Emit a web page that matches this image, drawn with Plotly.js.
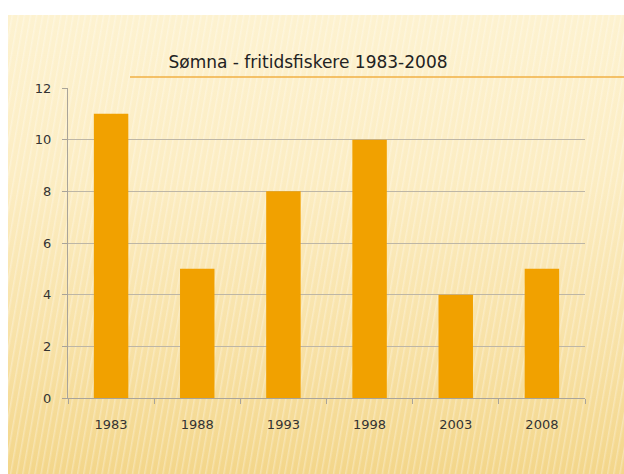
<!DOCTYPE html>
<html>
<head>
<meta charset="utf-8">
<script src="https://cdn.plot.ly/plotly-3.0.1.min.js"></script>
<style>
  html, body { margin: 0; padding: 0; background: #ffffff; }
  #wrap { position: relative; width: 624px; height: 474px; overflow: hidden; background: #ffffff; }
  #bg {
    position: absolute; left: 8px; top: 15px; width: 616px; height: 459px;
    background:
      repeating-linear-gradient(100deg, rgba(255,255,255,0.00) 0px, rgba(255,255,255,0.00) 3px, rgba(255,255,255,0.30) 4px, rgba(255,255,255,0.00) 6px),
      linear-gradient(180deg, #fdf2d0 0%, #fcedc3 35%, #f8e2a8 70%, #f3d68a 100%);
  }
  #chart { position: absolute; left: 0; top: 0; width: 624px; height: 474px; }
</style>
</head>
<body>
<div id="wrap">
  <div id="bg"></div>
  <div id="chart"></div>
</div>
<script>
var categories = ["1983", "1988", "1993", "1998", "2003", "2008"];
var values = [11, 5, 8, 10, 4, 5];
var yTicks = [0, 2, 4, 6, 8, 10, 12];
var chartTitle = "Sømna - fritidsfiskere 1983-2008";

var trace = {
  type: "bar",
  x: categories,
  y: values,
  marker: { color: "#f1a100", line: { width: 0 } },
  hoverinfo: "x+y"
};

var layout = {
  width: 624,
  height: 474,
  margin: { l: 68, r: 39, t: 88, b: 76 },
  paper_bgcolor: "rgba(0,0,0,0)",
  plot_bgcolor: "rgba(0,0,0,0)",
  bargap: 0.6,
  showlegend: false,
  font: { family: "DejaVu Sans, Verdana, sans-serif", size: 13, color: "#333333" },
  title: {
    text: chartTitle,
    font: { family: "DejaVu Sans, Verdana, sans-serif", size: 17, color: "#222222" },
    x: 308 / 624,
    xanchor: "center",
    xref: "container",
    y: 1 - 62 / 474,
    yanchor: "middle",
    yref: "container"
  },
  xaxis: {
    type: "category",
    showline: true,
    linecolor: "#a9a49a",
    linewidth: 1,
    ticks: "outside",
    tickson: "boundaries",
    ticklen: 5,
    tickcolor: "#a9a49a",
    ticklabelstandoff: 14,
    showgrid: false,
    tickfont: { size: 13, color: "#333333" },
    fixedrange: true
  },
  yaxis: {
    range: [0, 12],
    tickvals: yTicks,
    ticktext: yTicks.map(String),
    showline: true,
    linecolor: "#a9a49a",
    linewidth: 1,
    ticks: "outside",
    ticklen: 5,
    tickcolor: "#a9a49a",
    ticklabelstandoff: 8,
    showgrid: true,
    gridcolor: "#bdb6a6",
    gridwidth: 1,
    zeroline: false,
    tickfont: { size: 13, color: "#333333" },
    fixedrange: true
  },
  shapes: [
    {
      type: "line",
      xref: "paper", yref: "paper",
      x0: (130 - 68) / 517, x1: (624 - 68) / 517,
      y0: (398 - 77) / 310, y1: (398 - 77) / 310,
      line: { color: "#f0b045", width: 1.5 }
    }
  ]
};

Plotly.newPlot("chart", [trace], layout, { displayModeBar: false, staticPlot: true });
</script>
</body>
</html>
